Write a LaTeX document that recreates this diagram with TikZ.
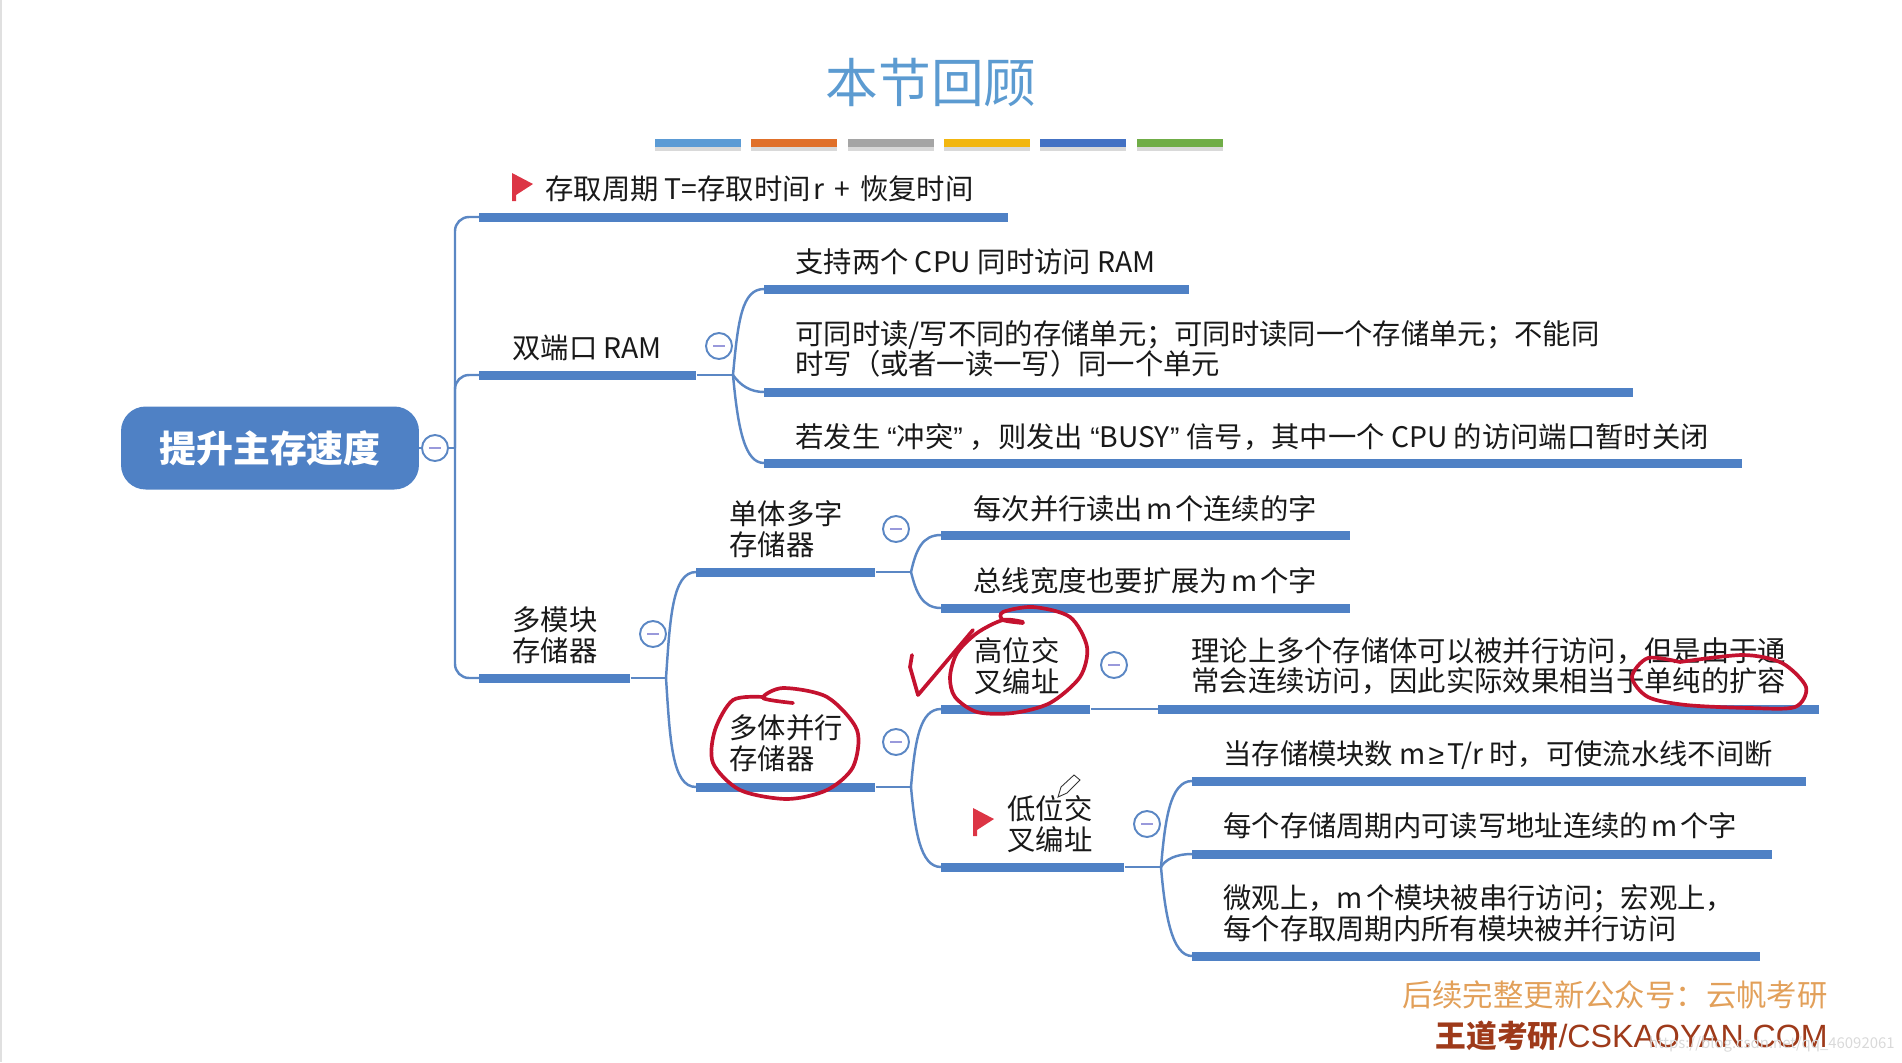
\documentclass[tikz,border=0pt]{standalone}
\usepackage{fontspec}
\setmainfont{Noto Sans CJK SC}
\newfontfamily\latinfont{Liberation Sans}
\usetikzlibrary{shadows}
\definecolor{barblue}{HTML}{4F81C5}
\definecolor{linkblue}{HTML}{5B87C4}
\definecolor{titleblue}{HTML}{5C9BD1}
\definecolor{inkred}{HTML}{C4122F}
\definecolor{flagred}{HTML}{DC3545}
\newcommand{\flagmark}[2]{\fill[flagred] (#1,#2) -- (#1+21,#2+11) -- (#1+4,#2+22) -- (#1+4,#2+28) -- (#1,#2+28) -- cycle;}
\newcommand{\narrow}[1]{{\latinfont #1}}
\begin{document}
\begin{tikzpicture}[x=0.02cm, y=-0.02cm,
  txt/.style={anchor=west, align=left, inner sep=0pt, text=black!90, font=\fontsize{16.12}{17.4}\selectfont},
  barbox/.style={fill=barblue, anchor=west, inner sep=0pt, minimum height=0.18cm},
  stripe/.style={anchor=west, inner sep=0pt, minimum height=0.17cm, minimum width=1.71cm,
    drop shadow={shadow xshift=0pt, shadow yshift=-2pt, opacity=0.3}},
  branch/.style={draw=linkblue, line width=1.4pt},
  toggle/.style={circle, draw=linkblue, fill=white, line width=1.1pt, inner sep=0pt, minimum size=0.52cm,
    path picture={\draw[black!35!blue!40, line width=1.2pt] (path picture bounding box.center) ++(-6,0) -- ++(12,0);}},
  ink/.style={inkred, line width=2.1pt, line cap=round, line join=round}]
\useasboundingbox (0,0) rectangle (1902,1062);
\draw[black!12, line width=1pt] (1,0) -- (1,1062);

% title
\node[font=\fontsize{30}{31}\selectfont, text=titleblue] (title) at (931,83) {本节回顾};
\node[stripe, fill={rgb,255:red,91;green,155;blue,213}] (stripe1) at (655,143) {};
\node[stripe, fill={rgb,255:red,224;green,112;blue,42}] (stripe2) at (751,143) {};
\node[stripe, fill={rgb,255:red,165;green,165;blue,165}] (stripe3) at (848,143) {};
\node[stripe, fill={rgb,255:red,242;green,182;blue,15}] (stripe4) at (944,143) {};
\node[stripe, fill={rgb,255:red,68;green,114;blue,196}] (stripe5) at (1040,143) {};
\node[stripe, fill={rgb,255:red,112;green,173;blue,71}] (stripe6) at (1137,143) {};

% root
\node[fill=barblue, rounded corners=14pt, minimum width=5.96cm, minimum height=1.66cm, text=white,
  font=\fontsize{21}{22}\selectfont\bfseries] (root) at (270,448) {提升主存速度};
\coordinate (rootfork) at (455,448);

% first level bars
\node[barbox, minimum width=10.58cm] (cycle) at (479,217) {};
\node[barbox, minimum width=4.34cm] (dual) at (479,375) {};
\node[barbox, minimum width=3.02cm] (multi) at (479,678) {};

\draw[branch] (root.east) -- (rootfork);
\draw[branch, rounded corners=8pt] (rootfork) |- (cycle.west);
\draw[branch, rounded corners=8pt] (rootfork) |- (dual.west);
\draw[branch, rounded corners=8pt] (rootfork) |- (multi.west);
\node[toggle] (roottoggle) at (435,448) {};

\flagmark{512}{173}
\node[txt] (cycletext) at (545,189) {存取周期 T=存取时间\hspace{0.1em}r\hspace{0.35em}+\hspace{0.35em}恢复时间};
\node[txt] (dualtext) at (512,348) {双端口 RAM};
\node[txt] (multitext) at (512,635) {多模块\\存储器};

% dual port
\coordinate (dualfork) at (733,375);
\node[barbox, minimum width=8.5cm] (dualone) at (764,289) {};
\node[barbox, minimum width=17.38cm] (dualtwo) at (764,392) {};
\node[barbox, minimum width=19.56cm] (dualthree) at (764,463) {};
\draw[branch] (dual.east) -- (dualfork);
\draw[branch] (dualfork) .. controls (738,320) and (742,289) .. (dualone.west);
\draw[branch] (dualfork) .. controls (740,385) and (750,392) .. (dualtwo.west);
\draw[branch] (dualfork) .. controls (738,430) and (745,463) .. (dualthree.west);
\node[toggle] (dualtoggle) at (719,346) {};
\node[txt] (dualonetext) at (795,262) {支持两个 CPU 同时访问 RAM};
\node[txt] (dualtwotext) at (795,349) {可同时读/写不同的存储单元；可同时读同一个存储单元；不能同\\时写（或者一读一写）同一个单元};
\node[txt] (dualthreetext) at (795,437) {若发生\hspace{0.25em}\narrow{“}冲突\narrow{”}\hspace{0.25em}，则发出\hspace{0.25em}\narrow{“}BUSY\narrow{”}\hspace{0.25em}信号，其中一个 CPU 的访问端口暂时关闭};

% multi module
\coordinate (multifork) at (666,678);
\node[barbox, minimum width=3.58cm] (single) at (696,572) {};
\node[barbox, minimum width=3.58cm] (parallel) at (696,787) {};
\draw[branch] (multi.east) -- (multifork);
\draw[branch] (multifork) .. controls (670,620) and (672,572) .. (single.west);
\draw[branch] (multifork) .. controls (670,740) and (672,787) .. (parallel.west);
\node[toggle] (multitoggle) at (653,634) {};
\node[txt] (singletext) at (729,529) {单体多字\\存储器};
\node[txt] (paralleltext) at (729,743) {多体并行\\存储器};

% single body
\coordinate (singlefork) at (911,572);
\node[barbox, minimum width=8.18cm] (singleone) at (941,535) {};
\node[barbox, minimum width=8.18cm] (singletwo) at (941,608) {};
\draw[branch] (single.east) -- (singlefork);
\draw[branch] (singlefork) .. controls (916,550) and (922,535) .. (singleone.west);
\draw[branch] (singlefork) .. controls (916,592) and (922,608) .. (singletwo.west);
\node[toggle] (singletoggle) at (896,529) {};
\node[txt] (singleonetext) at (973,509) {每次并行读出\hspace{0.1em}m\hspace{0.1em}个连续的字};
\node[txt] (singletwotext) at (973,581) {总线宽度也要扩展为\hspace{0.1em}m\hspace{0.1em}个字};

% parallel body
\coordinate (parallelfork) at (911,787);
\node[barbox, minimum width=2.98cm] (high) at (941,709) {};
\node[barbox, minimum width=3.66cm] (low) at (941,867) {};
\draw[branch] (parallel.east) -- (parallelfork);
\draw[branch] (parallelfork) .. controls (915,740) and (920,709) .. (high.west);
\draw[branch] (parallelfork) .. controls (915,830) and (920,867) .. (low.west);
\node[toggle] (paralleltoggle) at (896,742) {};
\node[txt] (hightext) at (974,666) {高位交\\叉编址};
\flagmark{973}{808}
\node[txt] (lowtext) at (1007,824) {低位交\\叉编址};

% high order
\node[barbox, minimum width=13.22cm] (highone) at (1158,709) {};
\draw[branch] (high.east) -- (highone.west);
\node[toggle] (hightoggle) at (1114,665) {};
\node[txt] (highonetext) at (1191,666) {理论上多个存储体可以被并行访问，但是由于通\\常会连续访问，因此实际效果相当于单纯的扩容};

% low order
\coordinate (lowfork) at (1161,867);
\node[barbox, minimum width=12.28cm] (lowone) at (1192,781) {};
\node[barbox, minimum width=11.6cm] (lowtwo) at (1192,854) {};
\node[barbox, minimum width=11.36cm] (lowthree) at (1192,956) {};
\draw[branch] (low.east) -- (lowfork);
\draw[branch] (lowfork) .. controls (1165,820) and (1170,781) .. (lowone.west);
\draw[branch] (lowfork) .. controls (1165,860) and (1175,854) .. (lowtwo.west);
\draw[branch] (lowfork) .. controls (1165,915) and (1172,956) .. (lowthree.west);
\node[toggle] (lowtoggle) at (1147,824) {};
\node[txt] (lowonetext) at (1223,755) {当存储模块数 m\hspace{0.1em}\narrow{≥}\hspace{0.1em}T/r 时，可使流水线不间断};
\node[txt] (lowtwotext) at (1223,826) {每个存储周期内可读写地址连续的\hspace{0.11em}m\hspace{0.11em}个字};
\node[txt] (lowthreetext) at (1223,913) {微观上，m\hspace{0.11em}个模块被串行访问；宏观上，\\每个存取周期内所有模块被并行访问};

% hand marks
\draw[ink] plot[smooth] coordinates {(793,703) (763,698) (783,688) (827,697) (857,730) (853,767) (827,790) (787,799) (740,790) (713,763) (715,730) (733,700) (763,697)};
\draw[ink] plot[smooth] coordinates {(1023,623) (1003,620) (1003,612) (1033,607) (1070,617) (1087,647) (1080,677) (1050,703) (1013,713) (977,712) (955,697) (950,677) (957,653) (977,633) (1003,620) (1023,622)};
\draw[ink] (912,655) -- (910,667) -- (918,695) -- (973,630);
\draw[ink] plot[smooth] coordinates {(1680,662) (1648,658) (1632,677) (1648,697) (1686,705) (1750,708) (1795,707) (1806,687) (1782,663) (1743,655) (1680,662)};
\draw[black!80, fill=white, line width=0.5pt] (1058,797) -- (1061,787) -- (1074,775) -- (1080,780) -- (1067,793) -- cycle;

% footer
\node[anchor=east, inner sep=0pt, text={rgb,255:red,226;green,160;blue,90}, font=\fontsize{17.3}{18}\selectfont] (public) at (1828,995) {后续完整更新公众号：云帆考研};
\node[anchor=east, inner sep=0pt, text={rgb,255:red,158;green,58;blue,26}, font=\fontsize{17.5}{18}\selectfont] (brand) at (1828,1036) {\textbf{王道考研}{\latinfont\fontsize{18.3}{19}\selectfont /CSKAOYAN.COM}};
\node[anchor=east, inner sep=0pt, text=black!15, font=\fontsize{8.5}{9}\selectfont] (mark) at (1895,1044) {https://blog.csdn.net/qq\_46092061};
\end{tikzpicture}
\end{document}
